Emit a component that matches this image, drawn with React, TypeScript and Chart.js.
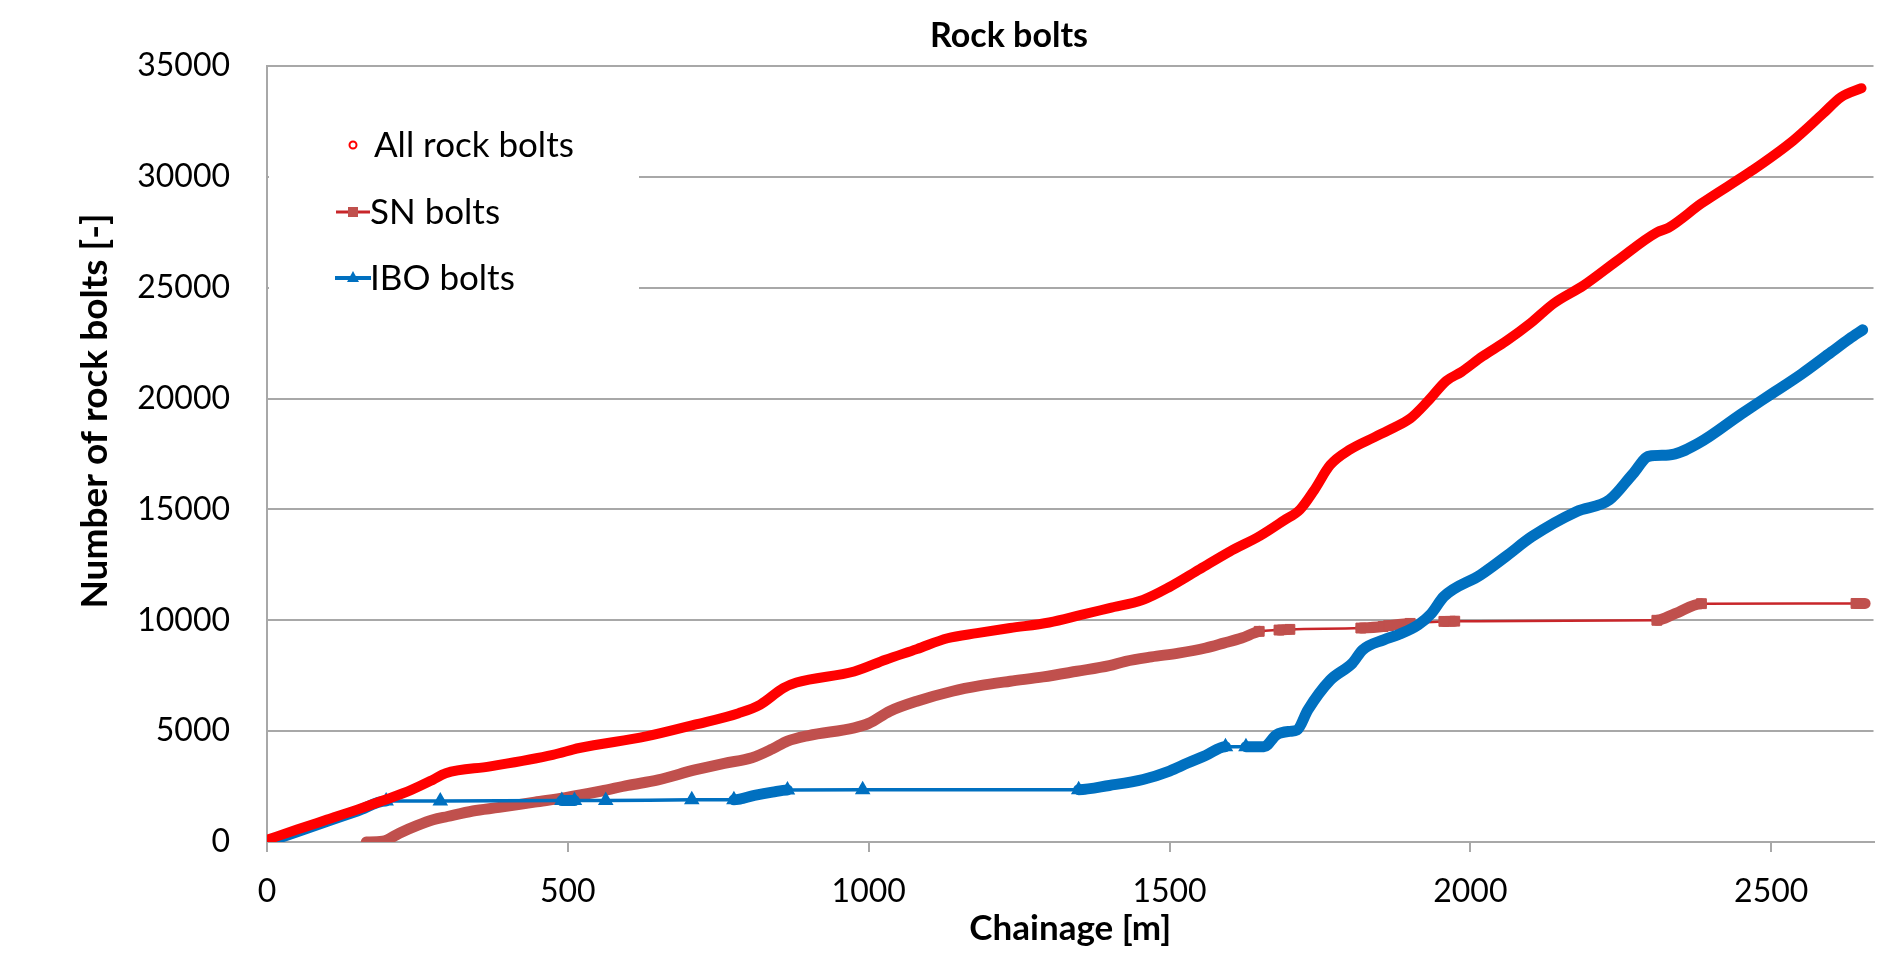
import React, { useEffect, useRef } from 'react';
import { Chart, registerables } from 'chart.js';

Chart.register(...registerables);

// ---- Data ----
const chartTitle = 'Rock bolts';
const xAxisTitle = 'Chainage [m]';
const yAxisTitle = 'Number of rock bolts [-]';
const seriesNames = ['All rock bolts', 'SN bolts', 'IBO bolts'];

const xMin = 0;
const xMax = 2670;
const xTickValues = [0, 500, 1000, 1500, 2000, 2500];
const yMin = 0;
const yMax = 35000;
const yStep = 5000;

// All rock bolts
const allX = [0, 50, 100, 150, 194, 240, 276, 297, 371, 475, 519, 630, 711, 784, 820, 858, 880, 976, 1028, 1080, 1131, 1180, 1235, 1300, 1353, 1400, 1456, 1500, 1550, 1600, 1650, 1690, 1717, 1740, 1767, 1800, 1840, 1870, 1900, 1930, 1960, 1985, 2020, 2060, 2100, 2139, 2188, 2243, 2310, 2329, 2384, 2469, 2537, 2586, 2616, 2650];
const allY = [100, 560, 1010, 1460, 1880, 2350, 2810, 3100, 3410, 3930, 4240, 4760, 5290, 5810, 6200, 6940, 7190, 7690, 8220, 8700, 9190, 9420, 9650, 9900, 10240, 10550, 10920, 11500, 12300, 13100, 13800, 14500, 15000, 15850, 17000, 17700, 18250, 18650, 19100, 19900, 20800, 21200, 21900, 22600, 23400, 24300, 25100, 26200, 27500, 27700, 28800, 30300, 31650, 32850, 33600, 34000];

// SN bolts
const snX = [165, 192, 220, 250, 276, 300, 342, 386, 445, 496, 556, 600, 650, 711, 760, 806, 840, 865, 900, 976, 1000, 1035, 1080, 1139, 1185, 1235, 1290, 1346, 1400, 1427, 1470, 1515, 1560, 1590, 1620, 1649, 1682, 1700, 1818, 1855, 1864, 1900, 1956, 1974, 2310, 2340, 2384, 2641, 2656];
const snY = [0, 30, 400, 750, 1000, 1150, 1400, 1560, 1800, 2000, 2300, 2550, 2800, 3250, 3550, 3800, 4200, 4550, 4800, 5150, 5350, 5900, 6350, 6800, 7050, 7250, 7450, 7700, 7950, 8150, 8350, 8520, 8750, 8970, 9200, 9500, 9560, 9590, 9650, 9720, 9760, 9860, 9950, 9960, 10000, 10300, 10750, 10760, 10760];
// chainages where a sparse (thin line) stretch starts
const snGapStarts = [1649, 1700, 1855, 1900, 1974, 2384];

// IBO bolts
const iboX = [0, 50, 100, 150, 198, 288, 490, 511, 563, 706, 776, 810, 840, 865, 990, 1349, 1400, 1456, 1500, 1530, 1560, 1593, 1627, 1657, 1678, 1700, 1712, 1730, 1767, 1804, 1821, 1856, 1880, 1913, 1935, 1956, 2017, 2060, 2102, 2176, 2231, 2270, 2297, 2330, 2380, 2450, 2500, 2550, 2600, 2630, 2652];
const iboY = [0, 460, 930, 1400, 1850, 1850, 1870, 1870, 1870, 1900, 1900, 2100, 2250, 2350, 2360, 2360, 2550, 2820, 3200, 3560, 3900, 4300, 4300, 4300, 4840, 4990, 5050, 5960, 7300, 8070, 8670, 9120, 9350, 9790, 10300, 11070, 12050, 12900, 13770, 14900, 15430, 16600, 17400, 17450, 18000, 19300, 20200, 21100, 22100, 22700, 23100];
const iboGapStarts = [198, 288, 511, 563, 706, 865, 990, 1593];

// ---- Styles ----
const RED = '#FF0000';
const SN_COLOR = '#C0504D';
const SN_THIN = '#C8262A';
const IBO_COLOR = '#0070C0';
const GRID = '#A8A8A8';
const FONT = 'Lato';

const toPoints = (xs: number[], ys: number[]) => xs.map((x, i) => ({ x, y: ys[i] }));

// marker only where a point borders a sparse (thin) stretch
const markerRadius = (xs: number[], gaps: number[], r: number) => (ctx: any) => {
  const i = ctx.dataIndex;
  const startsGap = gaps.includes(xs[i]);
  const endsGap = i > 0 && gaps.includes(xs[i - 1]);
  return startsGap || endsGap ? r : 0;
};

const titlePlugin = {
  id: 'texts',
  afterDraw(chart: any) {
    const ctx = chart.ctx;
    ctx.save();
    ctx.fillStyle = '#000';
    ctx.textAlign = 'center';
    ctx.textBaseline = 'middle';
    ctx.font = `bold 34px ${FONT}`;
    ctx.fillText(chartTitle, 1009, 36);
    // y-axis title
    ctx.translate(95, 411);
    ctx.rotate(-Math.PI / 2);
    ctx.font = `bold 37px ${FONT}`;
    ctx.fillText(yAxisTitle, 0, 0);
    ctx.restore();
  },
};

const legendPlugin = {
  id: 'boxLegend',
  afterDraw(chart: any) {
    const ctx = chart.ctx;
    const left = chart.chartArea.left;
    ctx.save();
    ctx.fillStyle = '#fff';
    ctx.fillRect(left + 2, 92, 370, 224);

    const mx = left + 86;
    const tx = left + 107;
    const rows = [145, 212, 278];

    // All rock bolts: hollow small circle
    ctx.beginPath();
    ctx.arc(mx, rows[0], 3.5, 0, Math.PI * 2);
    ctx.fillStyle = '#fff';
    ctx.fill();
    ctx.lineWidth = 2;
    ctx.strokeStyle = RED;
    ctx.stroke();

    // SN bolts: line + square
    ctx.beginPath();
    ctx.moveTo(mx - 17, rows[1]);
    ctx.lineTo(mx + 17, rows[1]);
    ctx.lineWidth = 3;
    ctx.strokeStyle = SN_THIN;
    ctx.stroke();
    ctx.fillStyle = SN_COLOR;
    ctx.fillRect(mx - 5, rows[1] - 5, 10, 10);

    // IBO bolts: line + triangle
    ctx.beginPath();
    ctx.moveTo(mx - 18, rows[2]);
    ctx.lineTo(mx + 18, rows[2]);
    ctx.lineWidth = 4;
    ctx.strokeStyle = IBO_COLOR;
    ctx.stroke();
    ctx.beginPath();
    ctx.moveTo(mx, rows[2] - 7);
    ctx.lineTo(mx + 6, rows[2] + 4);
    ctx.lineTo(mx - 6, rows[2] + 4);
    ctx.closePath();
    ctx.fillStyle = IBO_COLOR;
    ctx.fill();

    ctx.fillStyle = '#000';
    ctx.font = `35px ${FONT}`;
    ctx.textAlign = 'left';
    ctx.textBaseline = 'alphabetic';
    ctx.fillText(seriesNames[0], tx, rows[0] + 12);
    ctx.fillText(seriesNames[1], tx - 4, rows[1] + 12);
    ctx.fillText(seriesNames[2], tx - 4, rows[2] + 12);
    ctx.restore();
  },
};

export default function App() {
  const canvasRef = useRef<HTMLCanvasElement | null>(null);

  useEffect(() => {
    const canvas = canvasRef.current;
    if (!canvas) return;

    const tickFont = { family: FONT, size: 32 };

    const chart = new Chart(canvas, {
      type: 'line',
      data: {
        datasets: [
          {
            label: seriesNames[0],
            data: toPoints(allX, allY),
            borderColor: RED,
            backgroundColor: RED,
            borderWidth: 10,
            pointRadius: 0,
            borderJoinStyle: 'round',
            borderCapStyle: 'round',
            cubicInterpolationMode: 'monotone',
            fill: false,
            order: 0,
          },
          {
            label: seriesNames[1],
            data: toPoints(snX, snY),
            borderColor: SN_COLOR,
            backgroundColor: SN_COLOR,
            borderWidth: 11,
            pointStyle: 'rect',
            pointRadius: markerRadius(snX, snGapStarts, 7),
            pointBackgroundColor: SN_COLOR,
            pointBorderColor: SN_COLOR,
            pointBorderWidth: 1,
            borderJoinStyle: 'round',
            borderCapStyle: 'round',
            cubicInterpolationMode: 'monotone',
            fill: false,
            order: 2,
            segment: {
              borderWidth: (ctx: any) => (snGapStarts.includes(snX[ctx.p0DataIndex]) ? 2.5 : 11),
              borderColor: (ctx: any) => (snGapStarts.includes(snX[ctx.p0DataIndex]) ? SN_THIN : SN_COLOR),
            },
          },
          {
            label: seriesNames[2],
            data: toPoints(iboX, iboY),
            borderColor: IBO_COLOR,
            backgroundColor: IBO_COLOR,
            borderWidth: 11,
            pointStyle: 'triangle',
            pointRadius: markerRadius(iboX, iboGapStarts, 7),
            pointBackgroundColor: IBO_COLOR,
            pointBorderColor: IBO_COLOR,
            pointBorderWidth: 2,
            borderJoinStyle: 'round',
            borderCapStyle: 'round',
            cubicInterpolationMode: 'monotone',
            fill: false,
            order: 1,
            segment: {
              borderWidth: (ctx: any) => (iboGapStarts.includes(iboX[ctx.p0DataIndex]) ? 3.5 : 11),
            },
          },
        ],
      },
      options: {
        animation: false,
        responsive: false,
        devicePixelRatio: 1,
        events: [],
        layout: { padding: { top: 66, left: 0, right: 0, bottom: 0 } },
        plugins: {
          legend: { display: false },
          title: { display: false },
          tooltip: { enabled: false },
        },
        scales: {
          x: {
            type: 'linear',
            min: xMin,
            max: xMax,
            afterBuildTicks: (s: any) => {
              s.ticks = xTickValues.map((v) => ({ value: v }));
            },
            ticks: {
              padding: 20,
              color: '#000',
              font: tickFont,
              maxRotation: 0,
              autoSkip: false,
              callback: (v: any) => String(v),
            },
            grid: {
              drawOnChartArea: false,
              drawTicks: true,
              tickLength: 10,
              color: GRID,
              lineWidth: 2,
            },
            border: { display: true, color: GRID, width: 2 },
            title: {
              display: true,
              text: xAxisTitle,
              color: '#000',
              font: { family: FONT, size: 35, weight: 'bold' },
              padding: { top: 0, bottom: 5 },
            },
            afterFit: (s: any) => {
              s.height = 113;
            },
          },
          y: {
            type: 'linear',
            min: yMin,
            max: yMax,
            ticks: {
              stepSize: yStep,
              padding: 37,
              color: '#000',
              font: tickFont,
              callback: (v: any) => String(v),
            },
            grid: {
              drawTicks: false,
              color: GRID,
              lineWidth: 2,
            },
            border: { display: true, color: GRID, width: 2 },
            title: { display: false },
            afterFit: (s: any) => {
              s.width = 267;
            },
          },
        },
      } as any,
      plugins: [titlePlugin, legendPlugin],
    });

    let alive = true;
    if ((document as any).fonts) {
      Promise.all([
        (document as any).fonts.load(`32px ${FONT}`),
        (document as any).fonts.load(`bold 32px ${FONT}`),
      ]).then(() => {
        if (alive) chart.update();
      }).catch(() => {});
    }

    return () => {
      alive = false;
      chart.destroy();
    };
  }, []);

  return (
    <div style={{ position: 'fixed', left: 0, top: 0, width: 1879, height: 955, background: '#fff' }}>
      <canvas ref={canvasRef} width={1879} height={955} style={{ display: 'block' }} />
    </div>
  );
}
